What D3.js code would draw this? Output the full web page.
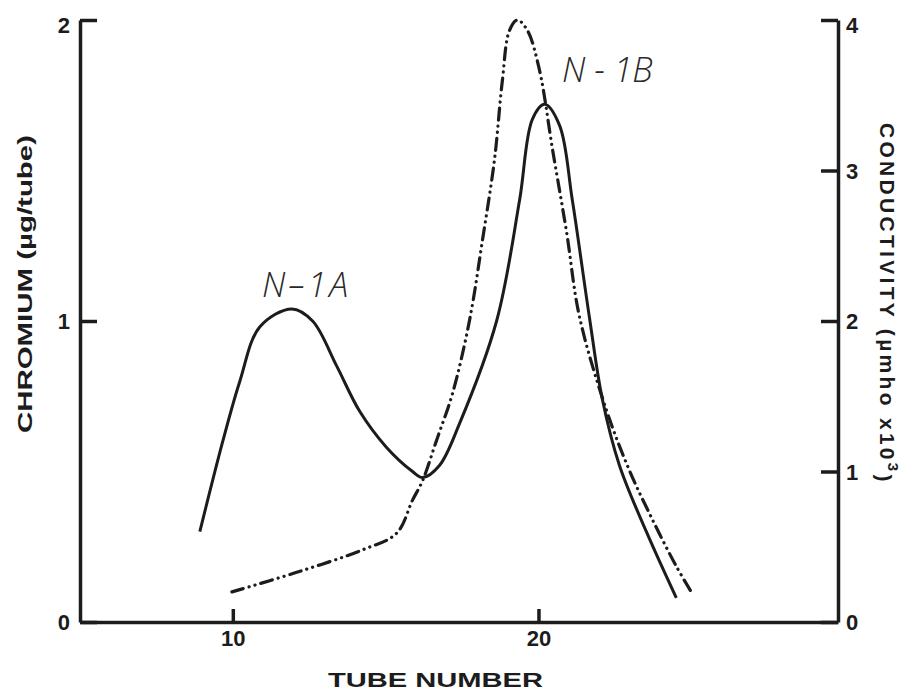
<!DOCTYPE html>
<html>
<head>
<meta charset="utf-8">
<script src="https://cdn.jsdelivr.net/npm/d3@7"></script>
<style>
  body { margin: 0; background: #fff; }
  svg { display: block; }
  .axis path, .axis line { stroke: #1c1c1c; stroke-width: 3.5; }
  .axis text { font-family: "Liberation Sans", Arial, sans-serif; font-weight: bold; font-size: 22px; fill: #1c1c1c; }
  .title { font-family: "Liberation Sans", Arial, sans-serif; font-weight: bold; font-size: 21px; fill: #1c1c1c; }
  .peak { font-family: "Open Sans", "Liberation Sans", sans-serif; font-style: italic; font-weight: 300; font-size: 34px; fill: #2a2a2a; }
</style>
</head>
<body>
<div id="chart"></div>
<script>
// chromium (left axis, µg/tube) per tube number
const chromTube = [8.92, 9.67, 10.23, 10.88, 11.93, 12.61, 13.40, 14.15, 15.03, 15.88, 16.21, 16.76, 17.42, 18.63, 19.38, 19.80, 20.20, 20.69, 21.11, 21.67, 22.09, 22.65, 23.53, 24.51];
const chromValue = [0.30, 0.60, 0.80, 0.98, 1.04, 1.00, 0.85, 0.70, 0.58, 0.50, 0.48, 0.52, 0.66, 1.00, 1.40, 1.67, 1.72, 1.65, 1.40, 1.01, 0.74, 0.52, 0.30, 0.08];

// conductivity (right axis, µmho x10^3) per tube number
const condTube = [9.97, 12.09, 14.25, 15.36, 15.88, 16.21, 16.67, 17.19, 17.75, 18.17, 18.56, 18.82, 19.05, 19.31, 19.64, 20.03, 20.46, 20.92, 21.34, 22.22, 22.97, 23.73, 24.51, 25.03];
const condValue = [0.20, 0.33, 0.48, 0.59, 0.81, 0.94, 1.21, 1.52, 2.01, 2.54, 3.07, 3.60, 3.93, 4.00, 3.93, 3.67, 3.14, 2.59, 2.03, 1.41, 1.01, 0.68, 0.37, 0.19];

const xTicks = [10, 20];
const leftTicks = [0, 1, 2];
const rightTicks = [0, 1, 2, 3, 4];

const width = 918, height = 695;
const margin = {left: 80, right: 80, top: 20, bottom: 73};

const svg = d3.select("#chart").append("svg")
    .attr("width", width)
    .attr("height", height);

const x = d3.scaleLinear().domain([5, 29.8]).range([margin.left, width - margin.right]);
const yL = d3.scaleLinear().domain([0, 2]).range([height - margin.bottom, margin.top]);
const yR = d3.scaleLinear().domain([0, 4]).range([height - margin.bottom, margin.top]);

// Axes (ticks point inward)
svg.append("g")
    .attr("class", "axis")
    .attr("transform", `translate(0, ${height - margin.bottom})`)
    .call(d3.axisBottom(x).tickValues(xTicks).tickFormat(d3.format("d"))
        .tickSizeInner(-13).tickSizeOuter(0).tickPadding(8));

const gl = svg.append("g")
    .attr("class", "axis")
    .attr("transform", `translate(${margin.left}, 0)`)
    .call(d3.axisLeft(yL).tickValues(leftTicks).tickFormat(d3.format("d"))
        .tickSizeInner(-17).tickSizeOuter(0).tickPadding(10));
gl.selectAll("text").attr("dy", d => d == 2 ? "0.55em" : "0.35em");

const gr = svg.append("g")
    .attr("class", "axis")
    .attr("transform", `translate(${width - margin.right}, 0)`)
    .call(d3.axisRight(yR).tickValues(rightTicks).tickFormat(d3.format("d"))
        .tickSizeInner(-17).tickSizeOuter(0).tickPadding(8));
gr.selectAll("text").attr("dy", d => d == 4 ? "0.55em" : "0.35em");

// Axis titles
svg.append("text")
    .attr("class", "title")
    .attr("x", 328).attr("y", 687)
    .attr("textLength", 215)
    .attr("lengthAdjust", "spacingAndGlyphs")
    .text("TUBE NUMBER");

svg.append("text")
    .attr("class", "title")
    .attr("transform", "translate(32, 433) rotate(-90)")
    .attr("textLength", 298)
    .attr("lengthAdjust", "spacingAndGlyphs")
    .text("CHROMIUM (µg/tube)");

const rt = svg.append("text")
    .attr("class", "title")
    .attr("letter-spacing", "3.3px")
    .attr("transform", "translate(880, 123) rotate(90)");
rt.append("tspan").text("CONDUCTIVITY (µmho x10");
rt.append("tspan").attr("dy", "-0.5em").attr("font-size", "15px").text("3");
rt.append("tspan").attr("dy", "0.5em").text(")");

// Curves
const chromData = chromTube.map((t, i) => ({t: t, v: chromValue[i]}));
const condData = condTube.map((t, i) => ({t: t, v: condValue[i]}));

const chromLine = d3.line()
    .x(d => x(d.t))
    .y(d => yL(d.v))
    .curve(d3.curveCatmullRom.alpha(0.5));

const condLine = d3.line()
    .x(d => x(d.t))
    .y(d => yR(d.v))
    .curve(d3.curveCatmullRom.alpha(0.5));

svg.append("path")
    .datum(condData)
    .attr("d", condLine)
    .attr("fill", "none")
    .attr("stroke", "#1c1c1c")
    .attr("stroke-width", 3.2)
    .attr("stroke-linecap", "round")
    .attr("stroke-dasharray", "12,6,0.1,6,0.1,6");

svg.append("path")
    .datum(chromData)
    .attr("d", chromLine)
    .attr("fill", "none")
    .attr("stroke", "#1c1c1c")
    .attr("stroke-width", 3)
    .attr("stroke-linejoin", "round");

// Peak labels
svg.append("text").attr("class", "peak")
    .attr("x", 262).attr("y", 297)
    .attr("letter-spacing", "3px")
    .text("N–1A");

svg.append("text").attr("class", "peak")
    .attr("x", 562).attr("y", 82)
    .text("N - 1B");
</script>
</body>
</html>
